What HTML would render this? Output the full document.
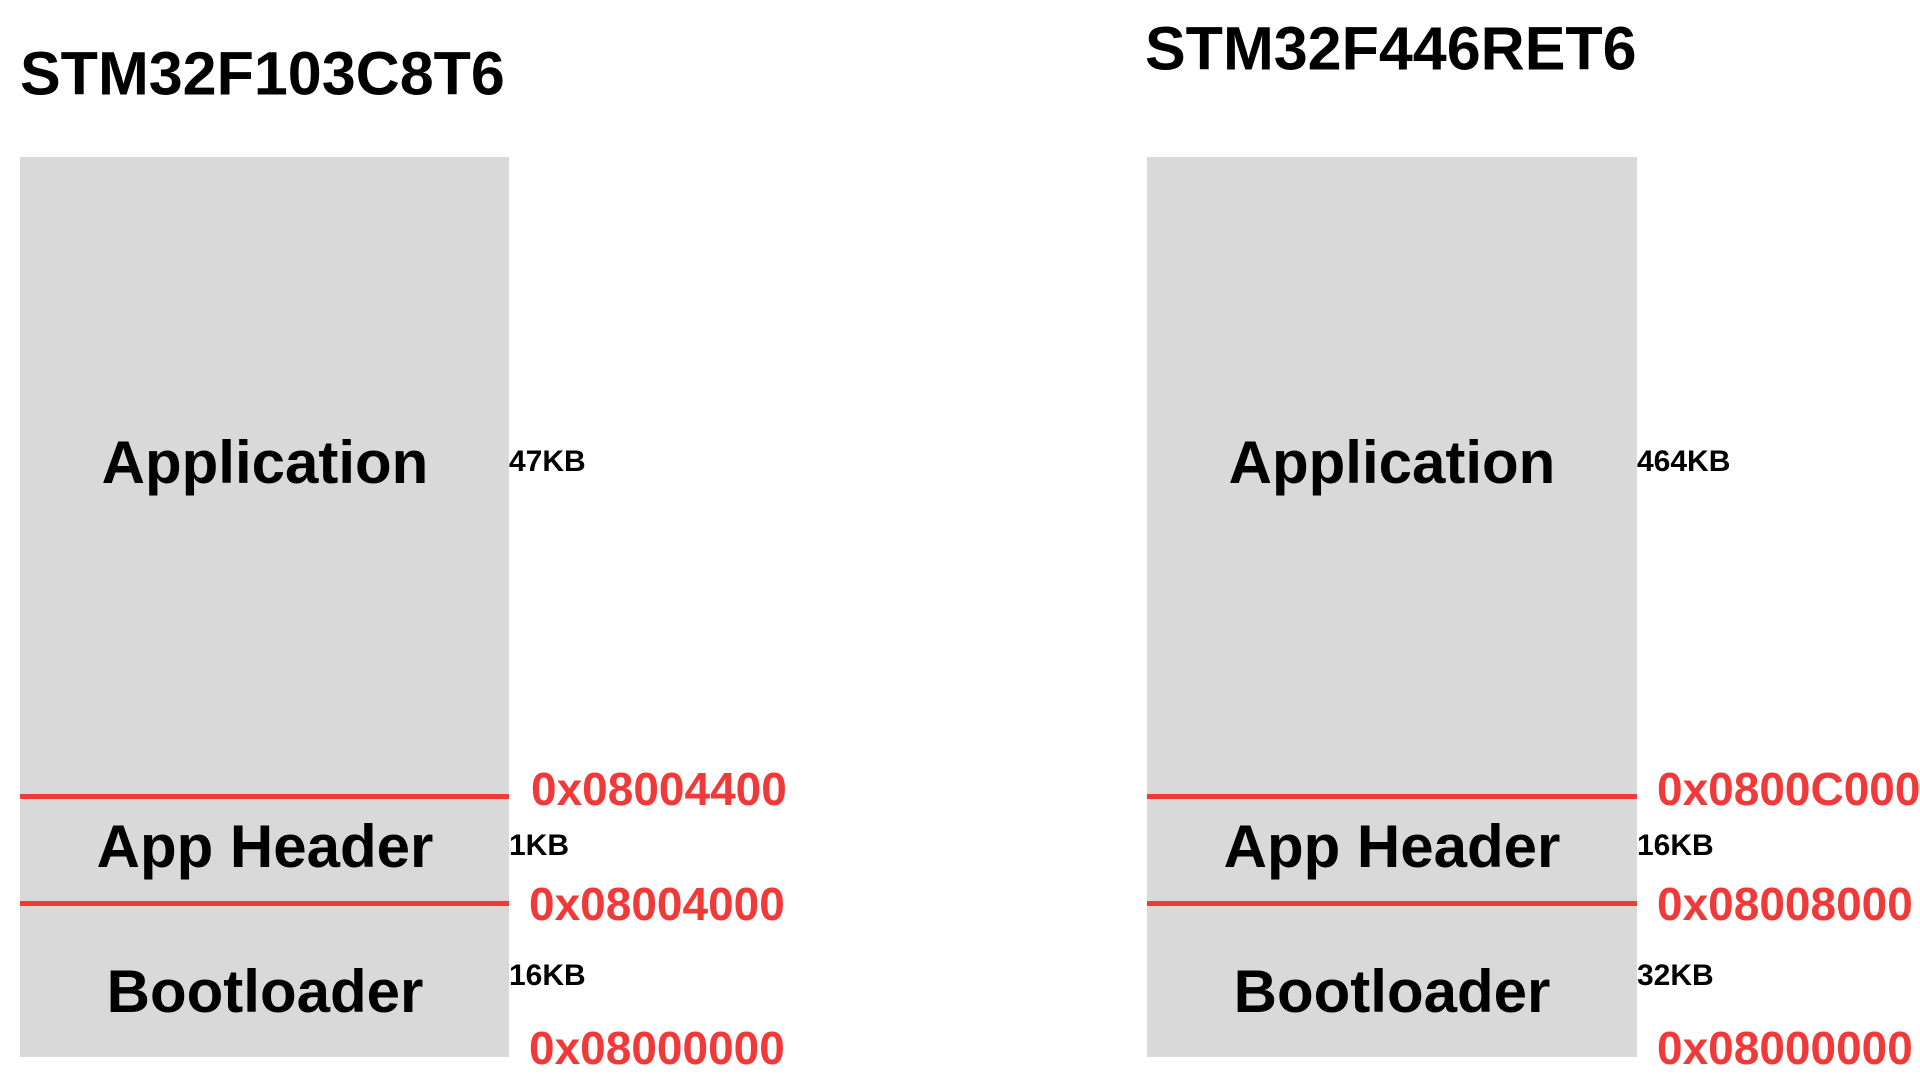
<!DOCTYPE html>
<html><head><style>
body{margin:0;width:1920px;height:1080px;background:#fff;position:relative;overflow:hidden;font-family:"Liberation Sans",sans-serif;font-weight:bold}
div{position:absolute;white-space:nowrap}
.box{background:#d9d9d9}
.line{background:#f03a3a;height:5px}
.t{line-height:1;transform:translateY(-50%)}
.big{font-size:60px;color:#000;text-align:center;width:490px}
.sz{font-size:30px;color:#000}
.ad{font-size:46px;color:#f03a3a}
.ti{font-size:61px;color:#000}
</style></head><body>
<div class="t ti" style="left:20px;top:74px">STM32F103C8T6</div>
<div class="t ti" style="left:1145px;top:49px">STM32F446RET6</div>

<div class="box" style="left:20px;top:157px;width:489px;height:900px"></div>
<div class="line" style="left:20px;top:794px;width:489px"></div>
<div class="line" style="left:20px;top:901px;width:489px"></div>
<div class="t big" style="left:20px;top:463px">Application</div>
<div class="t big" style="left:20px;top:847px">App Header</div>
<div class="t big" style="left:20px;top:992px">Bootloader</div>
<div class="t sz" style="left:509px;top:462px">47KB</div>
<div class="t sz" style="left:509px;top:846px">1KB</div>
<div class="t sz" style="left:509px;top:976px">16KB</div>
<div class="t ad" style="left:531px;top:789px">0x08004400</div>
<div class="t ad" style="left:529px;top:904px">0x08004000</div>
<div class="t ad" style="left:529px;top:1048px">0x08000000</div>

<div class="box" style="left:1147px;top:157px;width:490px;height:900px"></div>
<div class="line" style="left:1147px;top:794px;width:490px"></div>
<div class="line" style="left:1147px;top:901px;width:490px"></div>
<div class="t big" style="left:1147px;top:463px">Application</div>
<div class="t big" style="left:1147px;top:847px">App Header</div>
<div class="t big" style="left:1147px;top:992px">Bootloader</div>
<div class="t sz" style="left:1637px;top:462px">464KB</div>
<div class="t sz" style="left:1637px;top:846px">16KB</div>
<div class="t sz" style="left:1637px;top:976px">32KB</div>
<div class="t ad" style="left:1657px;top:789px">0x0800C000</div>
<div class="t ad" style="left:1657px;top:904px">0x08008000</div>
<div class="t ad" style="left:1657px;top:1048px">0x08000000</div>
</body></html>
